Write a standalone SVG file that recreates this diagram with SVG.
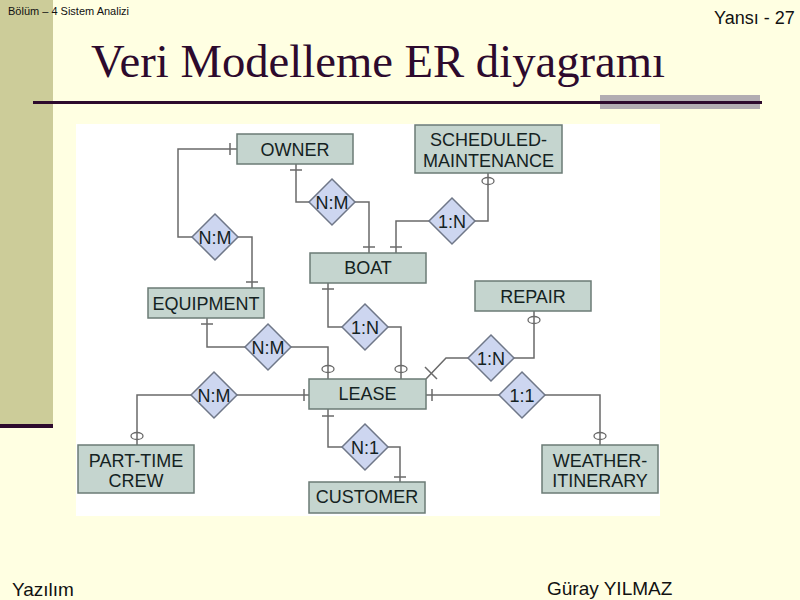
<svg xmlns="http://www.w3.org/2000/svg" width="800" height="600" viewBox="0 0 800 600">
<style>
.ent rect{fill:#C5D5CF;stroke:#6B7B76;stroke-width:1.5}
.rel polygon{fill:#CDD6F0;stroke:#6F7788;stroke-width:1.5}
.lbl{font-family:"Liberation Sans",Arial,sans-serif;font-size:18px;fill:#142222;text-anchor:middle}
#connectors polyline,#connectors line{fill:none;stroke:#6A6A6A;stroke-width:1.5}
#connectors ellipse{fill:none;stroke:#6A6A6A;stroke-width:1.3}
.hdr{font-family:"Liberation Sans",Arial,sans-serif;fill:#111}
</style>
<rect x="0" y="0" width="800" height="600" fill="#FFFFE2"/>
<rect x="0" y="0" width="53" height="424" fill="#CCCC99"/>
<rect x="0" y="424" width="53" height="4" fill="#2D0A2D"/>
<text class="hdr" x="8" y="15" font-size="11">Bölüm – 4 Sistem Analizi</text>
<text class="hdr" x="714" y="24" font-size="18">Yansı - 27</text>
<text x="91" y="77" font-family="Liberation Serif,'Times New Roman',serif" font-size="46" fill="#2D0A2D" textLength="574" lengthAdjust="spacingAndGlyphs">Veri Modelleme ER diyagramı</text>
<rect x="600" y="95" width="160" height="14" fill="#B2ADB2"/>
<rect x="33" y="101" width="729" height="3" fill="#2D0A2D"/>
<rect x="76" y="124" width="584" height="392" fill="#FFFFFF"/>
<text class="hdr" x="12" y="596" font-size="19">Yazılım</text>
<text class="hdr" x="547" y="595" font-size="19">Güray YILMAZ</text>

<g id="connectors">
<polyline points="237,149 178,149 178,237 192,237"/>
<polyline points="238,237 252,237 252,288"/>
<line x1="230" y1="143" x2="230" y2="155"/>
<line x1="246" y1="282" x2="258" y2="282"/>

<polyline points="296,164 296,202 309,202"/>
<polyline points="355,202 369,202 369,253"/>
<line x1="290" y1="170" x2="302" y2="170"/>
<line x1="363" y1="247" x2="375" y2="247"/>

<polyline points="488,173 488,221 475,221"/>
<polyline points="429,221 396,221 396,253"/>
<ellipse cx="488" cy="181" rx="6" ry="3.5"/>
<line x1="390" y1="247" x2="402" y2="247"/>

<polyline points="328,283 328,327 342,327"/>
<polyline points="388,327 401,327 401,379"/>
<line x1="322" y1="289" x2="334" y2="289"/>
<ellipse cx="401" cy="369" rx="6" ry="3.5"/>

<polyline points="207,318 207,347 245,347"/>
<polyline points="291,347 328,347 328,379"/>
<line x1="201" y1="324" x2="213" y2="324"/>
<ellipse cx="328" cy="369" rx="6" ry="3.5"/>

<polyline points="309,395 237,395"/>
<polyline points="191,395 137,395 137,445"/>
<line x1="304" y1="389" x2="304" y2="401"/>
<ellipse cx="137" cy="436" rx="6" ry="3.5"/>

<polyline points="328,409 328,447 342,447"/>
<polyline points="388,447 400,447 400,482"/>
<line x1="322" y1="416" x2="334" y2="416"/>
<line x1="394" y1="477" x2="406" y2="477"/>

<polyline points="426,379 446,358 468,358"/>
<polyline points="514,358 534,358 534,311"/>
<line x1="425" y1="367" x2="437" y2="379"/>
<ellipse cx="534" cy="320" rx="6" ry="3.5"/>

<polyline points="426,395 499,395"/>
<polyline points="545,395 600,395 600,445"/>
<line x1="432" y1="389" x2="432" y2="401"/>
<ellipse cx="600" cy="436" rx="6" ry="3.5"/>
</g>

<g id="owner" class="ent"><rect x="237" y="134" width="116" height="30"/><text class="lbl" x="295" y="156">OWNER</text></g>
<g id="scheduled-maintenance" class="ent"><rect x="415" y="125" width="147" height="48"/><text class="lbl" x="488.5" y="146">SCHEDULED-</text><text class="lbl" x="488.5" y="166.5">MAINTENANCE</text></g>
<g id="boat" class="ent"><rect x="310" y="253" width="116" height="30"/><text class="lbl" x="368" y="274">BOAT</text></g>
<g id="equipment" class="ent"><rect x="148" y="288" width="116" height="30"/><text class="lbl" x="206" y="309.5">EQUIPMENT</text></g>
<g id="repair" class="ent"><rect x="475" y="281" width="116" height="30"/><text class="lbl" x="533" y="302.5">REPAIR</text></g>
<g id="lease" class="ent"><rect x="309" y="379" width="117" height="30"/><text class="lbl" x="367.5" y="400">LEASE</text></g>
<g id="customer" class="ent"><rect x="309" y="482" width="116" height="31"/><text class="lbl" x="367" y="503">CUSTOMER</text></g>
<g id="part-time-crew" class="ent"><rect x="78" y="445" width="116" height="48"/><text class="lbl" x="136" y="467">PART-TIME</text><text class="lbl" x="136" y="487">CREW</text></g>
<g id="weather-itinerary" class="ent"><rect x="542" y="445" width="116" height="48"/><text class="lbl" x="600" y="467">WEATHER-</text><text class="lbl" x="600" y="487">ITINERARY</text></g>

<g id="rel-owner-boat" class="rel"><polygon points="332,179 355,202 332,225 309,202"/><text class="lbl" x="332" y="208.5">N:M</text></g>
<g id="rel-owner-equipment" class="rel"><polygon points="215,214 238,237 215,260 192,237"/><text class="lbl" x="215" y="243.5">N:M</text></g>
<g id="rel-boat-maintenance" class="rel"><polygon points="452,198 475,221 452,244 429,221"/><text class="lbl" x="452" y="227.5">1:N</text></g>
<g id="rel-boat-lease" class="rel"><polygon points="365,304 388,327 365,350 342,327"/><text class="lbl" x="365" y="333.5">1:N</text></g>
<g id="rel-equipment-lease" class="rel"><polygon points="268,324 291,347 268,370 245,347"/><text class="lbl" x="268" y="353.5">N:M</text></g>
<g id="rel-crew-lease" class="rel"><polygon points="214,372 237,395 214,418 191,395"/><text class="lbl" x="214" y="401.5">N:M</text></g>
<g id="rel-lease-customer" class="rel"><polygon points="365,424 388,447 365,470 342,447"/><text class="lbl" x="365" y="453.5">N:1</text></g>
<g id="rel-lease-repair" class="rel"><polygon points="491,335 514,358 491,381 468,358"/><text class="lbl" x="491" y="364.5">1:N</text></g>
<g id="rel-lease-weather" class="rel"><polygon points="522,372 545,395 522,418 499,395"/><text class="lbl" x="522" y="401.5">1:1</text></g>
</svg>
